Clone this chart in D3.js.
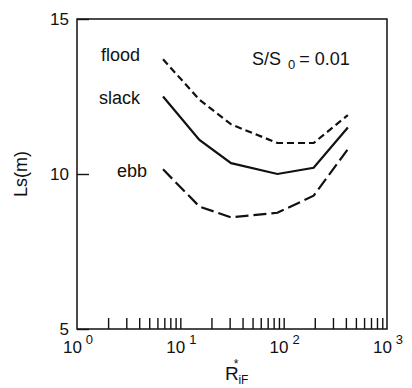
<!DOCTYPE html>
<html>
<head>
<meta charset="utf-8">
<script src="https://cdn.jsdelivr.net/npm/d3@7"></script>
<style>
  body { margin: 0; background: #fff; }
  text { font-family: "Liberation Sans", Arial, sans-serif; fill: #111; }
</style>
</head>
<body>
<script>
// values
const rValues = [6.8, 15.3, 31, 87, 195, 418];
const flood = [13.7, 12.4, 11.6, 11.0, 11.0, 11.9];
const slack = [12.5, 11.1, 10.35, 10.0, 10.2, 11.5];
const ebb = [10.15, 8.95, 8.6, 8.75, 9.3, 10.8];
const yTicks = [5, 10, 15];
const decades = [0, 1, 2, 3];

const width = 412, height = 388;
const margin = { top: 19, right: 25, bottom: 59, left: 77 };

const svg = d3.select("body")
    .append("svg")
    .attr("width", width)
    .attr("height", height);

const x = d3.scaleLog()
    .domain([1, 1000])
    .range([margin.left, width - margin.right]);

const y = d3.scaleLinear()
    .domain([5, 15])
    .range([height - margin.bottom, margin.top]);

// frame
svg.append("rect")
    .attr("x", margin.left)
    .attr("y", margin.top)
    .attr("width", width - margin.left - margin.right)
    .attr("height", height - margin.top - margin.bottom)
    .attr("fill", "none")
    .attr("stroke", "#111")
    .attr("stroke-width", 1.5);

// minor ticks along the bottom, pointing inward
const xTicks = x.ticks().filter(d => d > 1 && d < 1000);
svg.append("g")
    .attr("transform", `translate(0,${y(5)})`)
    .call(d3.axisBottom(x).tickValues(xTicks).tickSizeInner(-11).tickSizeOuter(0).tickFormat(""))
    .call(g => g.select(".domain").remove())
    .selectAll("line").attr("stroke", "#111").attr("stroke-width", 1.4);

// decade labels 10^k
const xl = svg.append("g");
decades.forEach(k => {
  const t = xl.append("text")
      .attr("x", x(Math.pow(10, k)) + 1)
      .attr("y", 353)
      .attr("text-anchor", "middle")
      .attr("font-size", 17);
  t.append("tspan").text("10");
  t.append("tspan").attr("font-size", 13).attr("dx", 4).attr("dy", -9).text(k);
});

// y axis
svg.append("g")
    .attr("transform", `translate(${margin.left},0)`)
    .call(d3.axisLeft(y).tickValues(yTicks).tickSizeInner(-12).tickSizeOuter(0).tickPadding(8))
    .call(g => g.select(".domain").remove())
    .call(g => g.selectAll("line").attr("stroke", "#111").attr("stroke-width", 1.4))
    .call(g => g.selectAll("text").attr("font-size", 17).attr("fill", "#111")
        .style("font-family", '"Liberation Sans", Arial, sans-serif'));

// lines
const line = d3.line()
    .x((d, i) => x(rValues[i]))
    .y(d => y(d));

const series = [
  { name: "flood", values: flood, dash: "7,4" },
  { name: "slack", values: slack, dash: null },
  { name: "ebb", values: ebb, dash: "13,5" }
];

svg.selectAll("path.series")
    .data(series)
    .join("path")
    .attr("class", "series")
    .attr("d", d => line(d.values))
    .attr("fill", "none")
    .attr("stroke", "#111")
    .attr("stroke-width", 2.2)
    .attr("stroke-dasharray", d => d.dash);

// series labels
svg.append("text").attr("x", 101).attr("y", 61).attr("font-size", 18).text("flood");
svg.append("text").attr("x", 99).attr("y", 104).attr("font-size", 18).text("slack");
svg.append("text").attr("x", 117).attr("y", 177).attr("font-size", 18).text("ebb");

// slope annotation
const ann = svg.append("text").attr("x", 252).attr("y", 65).attr("font-size", 18);
ann.append("tspan").text("S/S");
ann.append("tspan").attr("dx", 7).attr("dy", 4).attr("font-size", 13).text("0");
ann.append("tspan").attr("dx", 4).attr("dy", -4).text("= 0.01");

// axis titles
svg.append("text")
    .attr("transform", `translate(27,${(y(5) + y(15)) / 2}) rotate(-90)`)
    .attr("text-anchor", "middle")
    .attr("font-size", 18)
    .text("Ls(m)");

const xt = svg.append("text")
    .attr("x", 225)
    .attr("y", 380)
    .attr("font-size", 19);
xt.append("tspan").text("R");
xt.append("tspan").attr("font-size", 12).attr("dx", -5).attr("dy", -12).text("*");
xt.append("tspan").attr("font-size", 12).attr("dx", 0).attr("dy", 16).text("iF");
</script>
</body>
</html>
